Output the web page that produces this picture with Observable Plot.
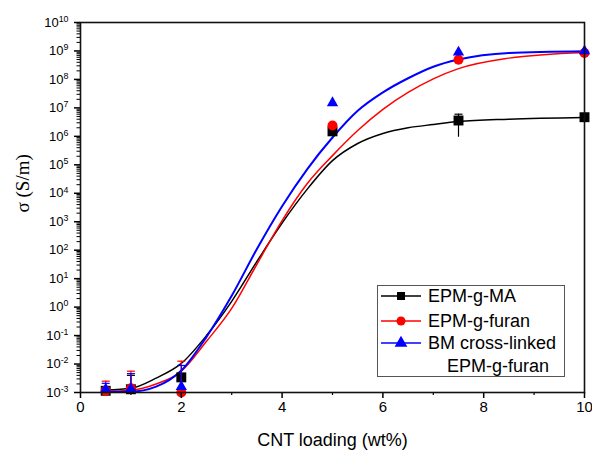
<!DOCTYPE html>
<html><head><meta charset="utf-8">
<script src="https://cdn.jsdelivr.net/npm/d3@7"></script>
<script src="https://cdn.jsdelivr.net/npm/@observablehq/plot@0.6"></script>
<style>
body{margin:0;background:#fff;}
#wrap{position:relative;width:592px;height:450px;font-family:"Liberation Sans",Arial,sans-serif;}
#legend{position:absolute;left:377px;top:285px;}
</style></head><body><div id="wrap"></div>
<script>
// ---- data ----
const seriesNames = ["EPM-g-MA", "EPM-g-furan", "BM cross-linked"];
const seriesNames2 = ["", "", "EPM-g-furan"];
const seriesColors = ["#000000", "#ff0000", "#0000ff"];
const seriesSymbols = ["square", "circle", "triangle"];

const pointX = [0.5, 1, 2, 5, 7.5, 10];
const maPoints = [1.15e-3, 1.3e-3, 3.4e-3, 1.5e6, 3.6e6, 4.7e6];
const furanPoints = [1.15e-3, 1.4e-3, 1.0e-3, 2.4e6, 4.9e8, 8.5e8];
const bmPoints = [1.3e-3, 1.35e-3, 1.6e-3, 1.5e7, 9.0e8, 1.0e9];

// fitted curves
const curveX = [0.5, 1, 1.5, 2, 2.5, 3, 3.5, 4, 4.5, 5, 5.5, 6, 6.5, 7, 7.5, 8.5, 10];
const maCurve = [1.2e-3, 1.4e-3, 3.2e-3, 1.05e-2, 0.1, 1.6, 40, 900, 1.4e4, 1.4e5, 5.6e5, 1.26e6, 2.0e6, 2.6e6, 3.3e6, 4.0e6, 4.6e6];
const furanCurve = [1.1e-3, 1.2e-3, 2.0e-3, 5.6e-3, 6.3e-2, 0.9, 32, 1.1e3, 2.2e4, 2.1e5, 1.6e6, 8.9e6, 3.5e7, 1.05e8, 2.4e8, 5.6e8, 8.9e8];
const bmCurve = [1.07e-3, 1.07e-3, 1.6e-3, 5.9e-3, 9.0e-2, 2.5, 110, 3.5e3, 7.1e4, 9.1e5, 7.9e6, 3.5e7, 1.1e8, 2.8e8, 5.0e8, 8.5e8, 9.8e8];

// error bars
const maErrX = [1, 7.5];
const maErrLow = [1.3e-3, 9.3e5];
const maErrHigh = [4.0e-3, 6.0e6];
const furanErrX = [0.5, 1, 2];
const furanErrLow = [1.0e-3, 1.0e-3, 1.0e-3];
const furanErrHigh = [2.5e-3, 5.6e-3, 1.26e-2];
const bmErrX = [0.5, 1, 2];
const bmErrLow = [1.0e-3, 1.0e-3, 1.6e-3];
const bmErrHigh = [2.1e-3, 4.6e-3, 8.9e-3];

const xTicks = [0, 2, 4, 6, 8, 10];
const xMinorTicks = [1, 3, 5, 7, 9];
const yTickExponents = [-3, -2, -1, 0, 1, 2, 3, 4, 5, 6, 7, 8, 9, 10];
const xLabel = "CNT loading (wt%)";
const yLabel = "σ (S/m)";

// ---- build tables ----
const pointSets = [maPoints, furanPoints, bmPoints];
const curveSets = [maCurve, furanCurve, bmCurve];
const errSets = [[maErrX, maErrLow, maErrHigh], [furanErrX, furanErrLow, furanErrHigh], [bmErrX, bmErrLow, bmErrHigh]];

const curves = [], points = [], errs = [];
seriesNames.forEach((s, i) => {
  curveX.forEach((x, j) => curves.push({s: i, x, y: curveSets[i][j]}));
  pointX.forEach((x, j) => points.push({s: i, x, y: pointSets[i][j]}));
  errSets[i][0].forEach((x, j) => errs.push({s: i, x, lo: errSets[i][1][j], hi: errSets[i][2][j]}));
});

const yMajor = yTickExponents.map(e => Math.pow(10, e));
const yMinor = [];
yTickExponents.slice(0, -1).forEach(e => { for (let m = 2; m <= 9; m++) yMinor.push(m * Math.pow(10, e)); });

const capSymbol = {draw(ctx) { ctx.moveTo(-4, 0); ctx.lineTo(4, 0); }};
const sizes = [5.6, 5, 4.2];
const widths = [1.5, 1.5, 2];

const marks = [];
[0, 1, 2].forEach(i => {
  marks.push(Plot.line(curves.filter(d => d.s === i), {x: "x", y: "y", stroke: seriesColors[i], strokeWidth: widths[i], curve: "monotone-x"}));
});
[0, 1, 2].forEach(i => {
  const e = errs.filter(d => d.s === i);
  marks.push(Plot.ruleX(e, {x: "x", y1: "lo", y2: "hi", stroke: seriesColors[i], strokeWidth: 1.2}));
  marks.push(Plot.dot(e, {x: "x", y: "hi", symbol: capSymbol, stroke: seriesColors[i], fill: "none", strokeWidth: 1.2}));
  marks.push(Plot.dot(points.filter(d => d.s === i), {x: "x", y: "y", symbol: seriesSymbols[i], fill: seriesColors[i], r: sizes[i]}));
});

const chart = Plot.plot({
  width: 592, height: 450,
  marginLeft: 80, marginRight: 8, marginTop: 22, marginBottom: 58,
  style: {fontFamily: "'Liberation Sans', Arial, sans-serif", fontSize: "14px", background: "white", color: "black"},
  x: {domain: [0, 10], label: null},
  y: {type: "log", domain: [1e-3, 1e10], label: null},
  marks: [
    ...marks,
    Plot.axisX({ticks: xTicks, tickSize: 6, tickPadding: 3, tickFormat: d => String(d), fontSize: 15, strokeWidth: 1.5}),
    Plot.axisX({ticks: xMinorTicks, tickSize: 3, tickFormat: () => "", strokeWidth: 1.2}),
    Plot.axisY({ticks: yMajor, tickSize: 6, tickPadding: 6, tickFormat: d => "10^" + Math.round(Math.log10(d)), fontSize: 13, strokeWidth: 1.5}),
    Plot.axisY({ticks: yMinor, tickSize: 3.5, tickFormat: () => "", strokeWidth: 1}),
    Plot.frame({stroke: "#111", strokeWidth: 1.6}),
    Plot.text([yLabel], {text: d => d, frameAnchor: "left", dx: -58, dy: 5, rotate: -90, fontFamily: "'Liberation Serif', 'Times New Roman', serif", fontSize: 19}),
    Plot.text([xLabel], {text: d => d, frameAnchor: "bottom", lineAnchor: "middle", dy: 48, fontSize: 18})
  ]
});

// superscript exponents
const NS = "http://www.w3.org/2000/svg";
chart.querySelectorAll("text").forEach(t => {
  const m = t.textContent.match(/^10\^(-?\d+)$/);
  if (m) {
    t.textContent = "10";
    const ts = document.createElementNS(NS, "tspan");
    ts.setAttribute("dy", "-0.55em");
    ts.setAttribute("font-size", "0.68em");
    ts.textContent = m[1];
    t.appendChild(ts);
  }
});

const wrap = document.getElementById("wrap");
wrap.appendChild(chart);

// legend
const lw = 188, lh = 92;
const leg = d3.select(wrap).append("svg").attr("id", "legend").attr("width", lw).attr("height", lh)
  .style("font-family", "'Liberation Sans', Arial, sans-serif");
leg.append("rect").attr("x", 0.5).attr("y", 0.5).attr("width", lw - 1).attr("height", lh - 1).attr("fill", "white").attr("stroke", "#555");
const rowY = [11, 36, 58];
const legSym = [d3.symbolSquare, d3.symbolCircle, d3.symbolTriangle];
const legSize = [64, 64, 70];
seriesNames.forEach((name, i) => {
  const g = leg.append("g");
  g.append("line").attr("x1", 4).attr("x2", 44).attr("y1", rowY[i]).attr("y2", rowY[i]).attr("stroke", seriesColors[i]).attr("stroke-width", 1.5);
  g.append("path").attr("d", d3.symbol(legSym[i], legSize[i])()).attr("transform", `translate(24,${rowY[i]})`).attr("fill", seriesColors[i]);
  g.append("text").attr("x", 51).attr("y", rowY[i]).attr("dy", "0.35em").attr("font-size", 18).text(name);
  if (seriesNames2[i]) g.append("text").attr("x", 70).attr("y", rowY[i] + 23).attr("dy", "0.35em").attr("font-size", 18).text(seriesNames2[i]);
});
</script></body></html>
